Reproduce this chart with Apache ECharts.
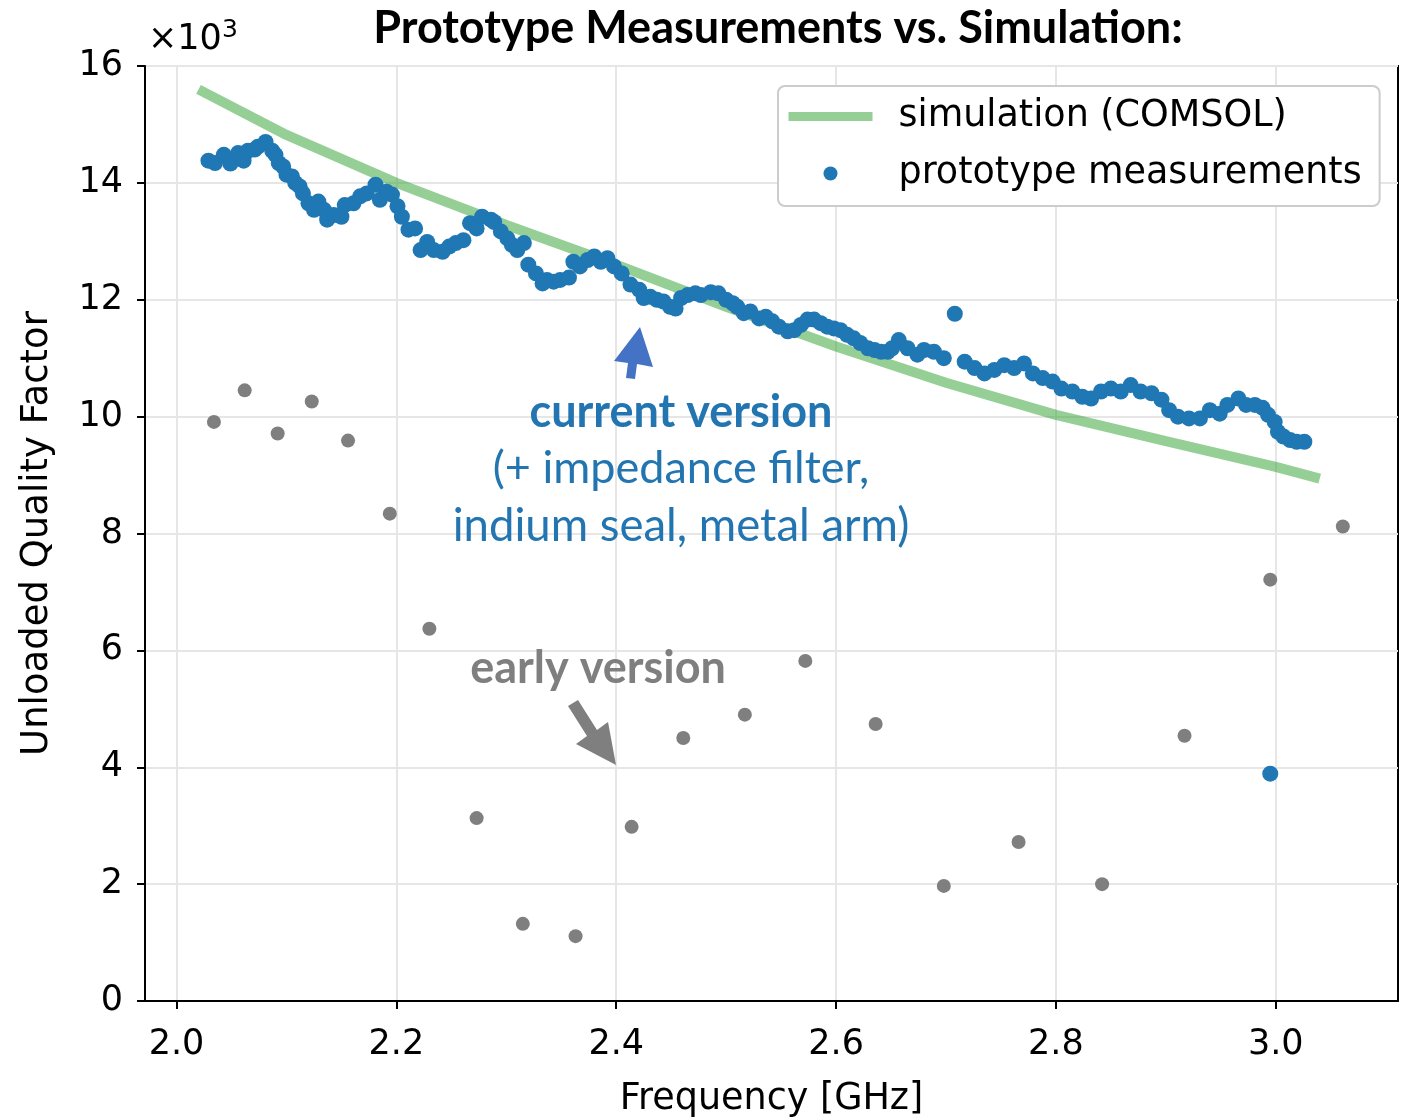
<!DOCTYPE html>
<html>
<head>
<meta charset="utf-8">
<script src="https://cdn.jsdelivr.net/npm/echarts@6/dist/echarts.min.js"></script>
<style>html,body{margin:0;padding:0;background:#fff;}#c{width:1401px;height:1117px;}</style>
</head>
<body>
<div id="c"></div>
<script>
// Frequency [GHz], Q in units of 10^3
const simFreq = [2.02, 2.1, 2.2, 2.3, 2.4, 2.5, 2.6, 2.7, 2.8, 2.9, 3.0, 3.04];
const simQ    = [15.6, 14.82, 14.0, 13.28, 12.6, 11.88, 11.2, 10.58, 10.03, 9.58, 9.14, 8.94];

const earlyFreq = [2.034, 2.062, 2.092, 2.123, 2.156, 2.194, 2.230, 2.273, 2.315, 2.363, 2.414, 2.461, 2.517, 2.572, 2.636, 2.698, 2.766, 2.842, 2.917, 2.995, 3.061];
const earlyQ    = [9.91, 10.45, 9.71, 10.26, 9.59, 8.34, 6.37, 3.13, 1.32, 1.11, 2.98, 4.50, 4.90, 5.82, 4.74, 1.97, 2.72, 2.00, 4.54, 7.21, 8.12];

const measFreq = [2.029,2.035,2.043,2.049,2.056,2.061,2.065,2.071,2.074,2.081,2.087,2.090,2.093,2.097,2.100,2.105,2.108,2.112,2.115,2.120,
  2.125,2.129,2.134,2.137,2.143,2.150,2.153,2.161,2.167,2.173,2.181,2.185,2.191,2.196,2.201,2.205,2.211,2.217,2.222,2.228,
  2.234,2.242,2.248,2.254,2.261,2.267,2.273,2.278,2.286,2.289,2.295,2.301,2.305,2.310,2.316,2.320,2.327,2.333,2.337,2.343,
  2.349,2.357,2.361,2.367,2.374,2.380,2.386,2.392,2.398,2.405,2.413,2.421,2.425,2.431,2.437,2.443,2.449,2.454,2.459,2.465,
  2.472,2.477,2.486,2.493,2.500,2.506,2.510,2.516,2.522,2.530,2.536,2.542,2.548,2.556,2.562,2.568,2.574,2.580,2.586,2.592,
  2.598,2.604,2.610,2.616,2.622,2.629,2.635,2.641,2.647,2.651,2.657,2.665,2.674,2.680,2.689,2.698,2.708,2.717,2.726,2.735,
  2.744,2.753,2.762,2.771,2.779,2.788,2.797,2.805,2.815,2.824,2.832,2.841,2.850,2.859,2.868,2.877,2.887,2.896,2.903,2.911,
  2.921,2.931,2.940,2.949,2.956,2.966,2.973,2.981,2.988,2.993,2.999,3.002,3.007,3.013,3.019,3.026,2.995];
const measQ = [14.38,14.34,14.48,14.33,14.51,14.38,14.55,14.57,14.62,14.70,14.55,14.48,14.34,14.28,14.14,14.11,14.00,13.94,13.82,13.65,
  13.54,13.68,13.54,13.37,13.45,13.42,13.62,13.65,13.77,13.82,13.97,13.71,13.85,13.80,13.60,13.42,13.20,13.22,12.85,12.99,
  12.85,12.82,12.91,12.97,13.02,13.31,13.22,13.42,13.37,13.33,13.17,13.05,12.94,12.85,12.97,12.60,12.45,12.28,12.34,12.31,
  12.34,12.38,12.65,12.57,12.68,12.74,12.65,12.71,12.57,12.45,12.26,12.17,12.03,12.05,12.00,11.97,11.88,11.85,12.03,12.08,
  12.11,12.08,12.13,12.11,12.00,11.94,11.88,11.77,11.80,11.68,11.71,11.63,11.54,11.46,11.48,11.57,11.66,11.66,11.60,11.54,
  11.51,11.48,11.40,11.34,11.26,11.17,11.14,11.11,11.11,11.17,11.31,11.17,11.06,11.14,11.11,11.00,11.76,10.94,10.83,10.74,
  10.80,10.88,10.83,10.91,10.74,10.66,10.60,10.48,10.43,10.34,10.31,10.43,10.48,10.43,10.54,10.43,10.40,10.29,10.11,10.00,
  9.97,9.97,10.11,10.05,10.20,10.31,10.20,10.20,10.15,10.03,9.91,9.74,9.66,9.60,9.57,9.57,3.89];

const xTicks = [2.0, 2.2, 2.4, 2.6, 2.8, 3.0];
const yTicks = [0, 2, 4, 6, 8, 10, 12, 14, 16];

const zip = (a, b) => a.map((v, i) => [v, b[i]]);

const chart = echarts.init(document.getElementById('c'));
const tickFont = {fontFamily: 'DejaVu Sans', fontSize: 35, color: '#000'};
const calFont = 'Lato, "Open Sans", sans-serif';
const simColor = 'rgba(44,160,44,0.5)';

chart.setOption({
  animation: false,
  backgroundColor: '#fff',
  grid: {left: 145, right: 3, top: 66, bottom: 116, containLabel: false, outerBoundsMode: 'none',
         show: true, borderColor: '#000', borderWidth: 2, backgroundColor: 'transparent'},
  xAxis: {
    type: 'value', min: 1.9713, max: 3.1112,
    name: 'Frequency [GHz]', nameLocation: 'middle', nameGap: 80,
    nameTextStyle: {fontFamily: 'DejaVu Sans', fontSize: 36.5, color: '#000'},
    axisLine: {show: true, lineStyle: {color: '#000', width: 2}},
    axisTick: {show: true, customValues: xTicks, length: 8, lineStyle: {color: '#000', width: 2}},
    axisLabel: Object.assign({customValues: xTicks, margin: 26, formatter: v => v.toFixed(1)}, tickFont),
    splitLine: {show: true, lineStyle: {color: '#e6e6e6', width: 2}}
  },
  yAxis: {
    type: 'value', min: 0, max: 16, interval: 2,
    name: 'Unloaded Quality Factor', nameLocation: 'middle', nameGap: 89, nameRotate: 90,
    nameTextStyle: {fontFamily: 'DejaVu Sans', fontSize: 37, color: '#000'},
    axisLine: {show: true, lineStyle: {color: '#000', width: 2}},
    axisTick: {show: true, length: 8, lineStyle: {color: '#000', width: 2}},
    axisLabel: Object.assign({margin: 22, formatter: v => String(v)}, tickFont),
    splitLine: {show: true, lineStyle: {color: '#e6e6e6', width: 2}}
  },
  legend: {
    orient: 'vertical', left: 778, top: 86,
    data: [
      {name: 'simulation (COMSOL)', itemStyle: {opacity: 0}, lineStyle: {width: 9, color: simColor}},
      {name: 'prototype measurements', icon: 'circle', itemStyle: {color: '#1f77b4', opacity: 1}}
    ],
    itemWidth: 84, itemHeight: 14, itemGap: 20,
    padding: [12, 18, 14, 6],
    backgroundColor: '#fff', borderColor: '#cccccc', borderWidth: 2, borderRadius: 7,
    textStyle: {fontFamily: 'DejaVu Sans', fontSize: 36.5, color: '#000', padding: [0, 0, 0, 21]}
  },
  series: [
    {name: 'simulation (COMSOL)', type: 'line', data: zip(simFreq, simQ), symbol: 'none', z: 2,
     lineStyle: {color: simColor, width: 10, cap: 'butt'}, itemStyle: {color: simColor}},
    {name: 'early version', type: 'scatter', data: zip(earlyFreq, earlyQ), symbolSize: 14, z: 3,
     itemStyle: {color: '#7f7f7f', opacity: 1}},
    {name: 'prototype measurements', type: 'scatter', data: zip(measFreq, measQ), symbolSize: 16, z: 4,
     itemStyle: {color: '#1f77b4', opacity: 1}}
  ],
  graphic: [
    {type: 'text', z: 100, x: 148, y: 40, style: {text: '×10', font: '35px "DejaVu Sans"', fill: '#000', verticalAlign: 'middle'}},
    {type: 'text', z: 100, x: 222, y: 30, style: {text: '3', font: '25px "DejaVu Sans"', fill: '#000', verticalAlign: 'middle'}},
    {type: 'text', z: 100, x: 778, y: 28, style: {text: 'Prototype Measurements vs. Simulation:', font: 'bold 45px ' + calFont, fill: '#000', align: 'center', verticalAlign: 'middle'}},
    {type: 'text', z: 100, x: 681, y: 412, style: {text: 'current version', font: 'bold 45px ' + calFont, fill: '#2275b0', align: 'center', verticalAlign: 'middle'}},
    {type: 'text', z: 100, x: 681, y: 468, style: {text: '(+ impedance filter,', font: '45px ' + calFont, fill: '#2275b0', align: 'center', verticalAlign: 'middle'}},
    {type: 'text', z: 100, x: 681, y: 526, style: {text: 'indium seal, metal arm)', font: '45.5px ' + calFont, fill: '#2275b0', align: 'center', verticalAlign: 'middle'}},
    {type: 'text', z: 100, x: 598, y: 668, style: {text: 'early version', font: 'bold 45px ' + calFont, fill: '#7f7f7f', align: 'center', verticalAlign: 'middle'}},
    {type: 'polygon', z: 100, shape: {points: [[640,327],[653,367],[637,364],[635,379],[626,378],[628,363],[614,361]]}, style: {fill: '#4472c4'}},
    {type: 'polygon', z: 100, shape: {points: [[568,706],[578,700],[597,730],[608,722],[616,765],[576,744],[587,736]]}, style: {fill: '#7f7f7f'}}
  ]
});
</script>
</body>
</html>
